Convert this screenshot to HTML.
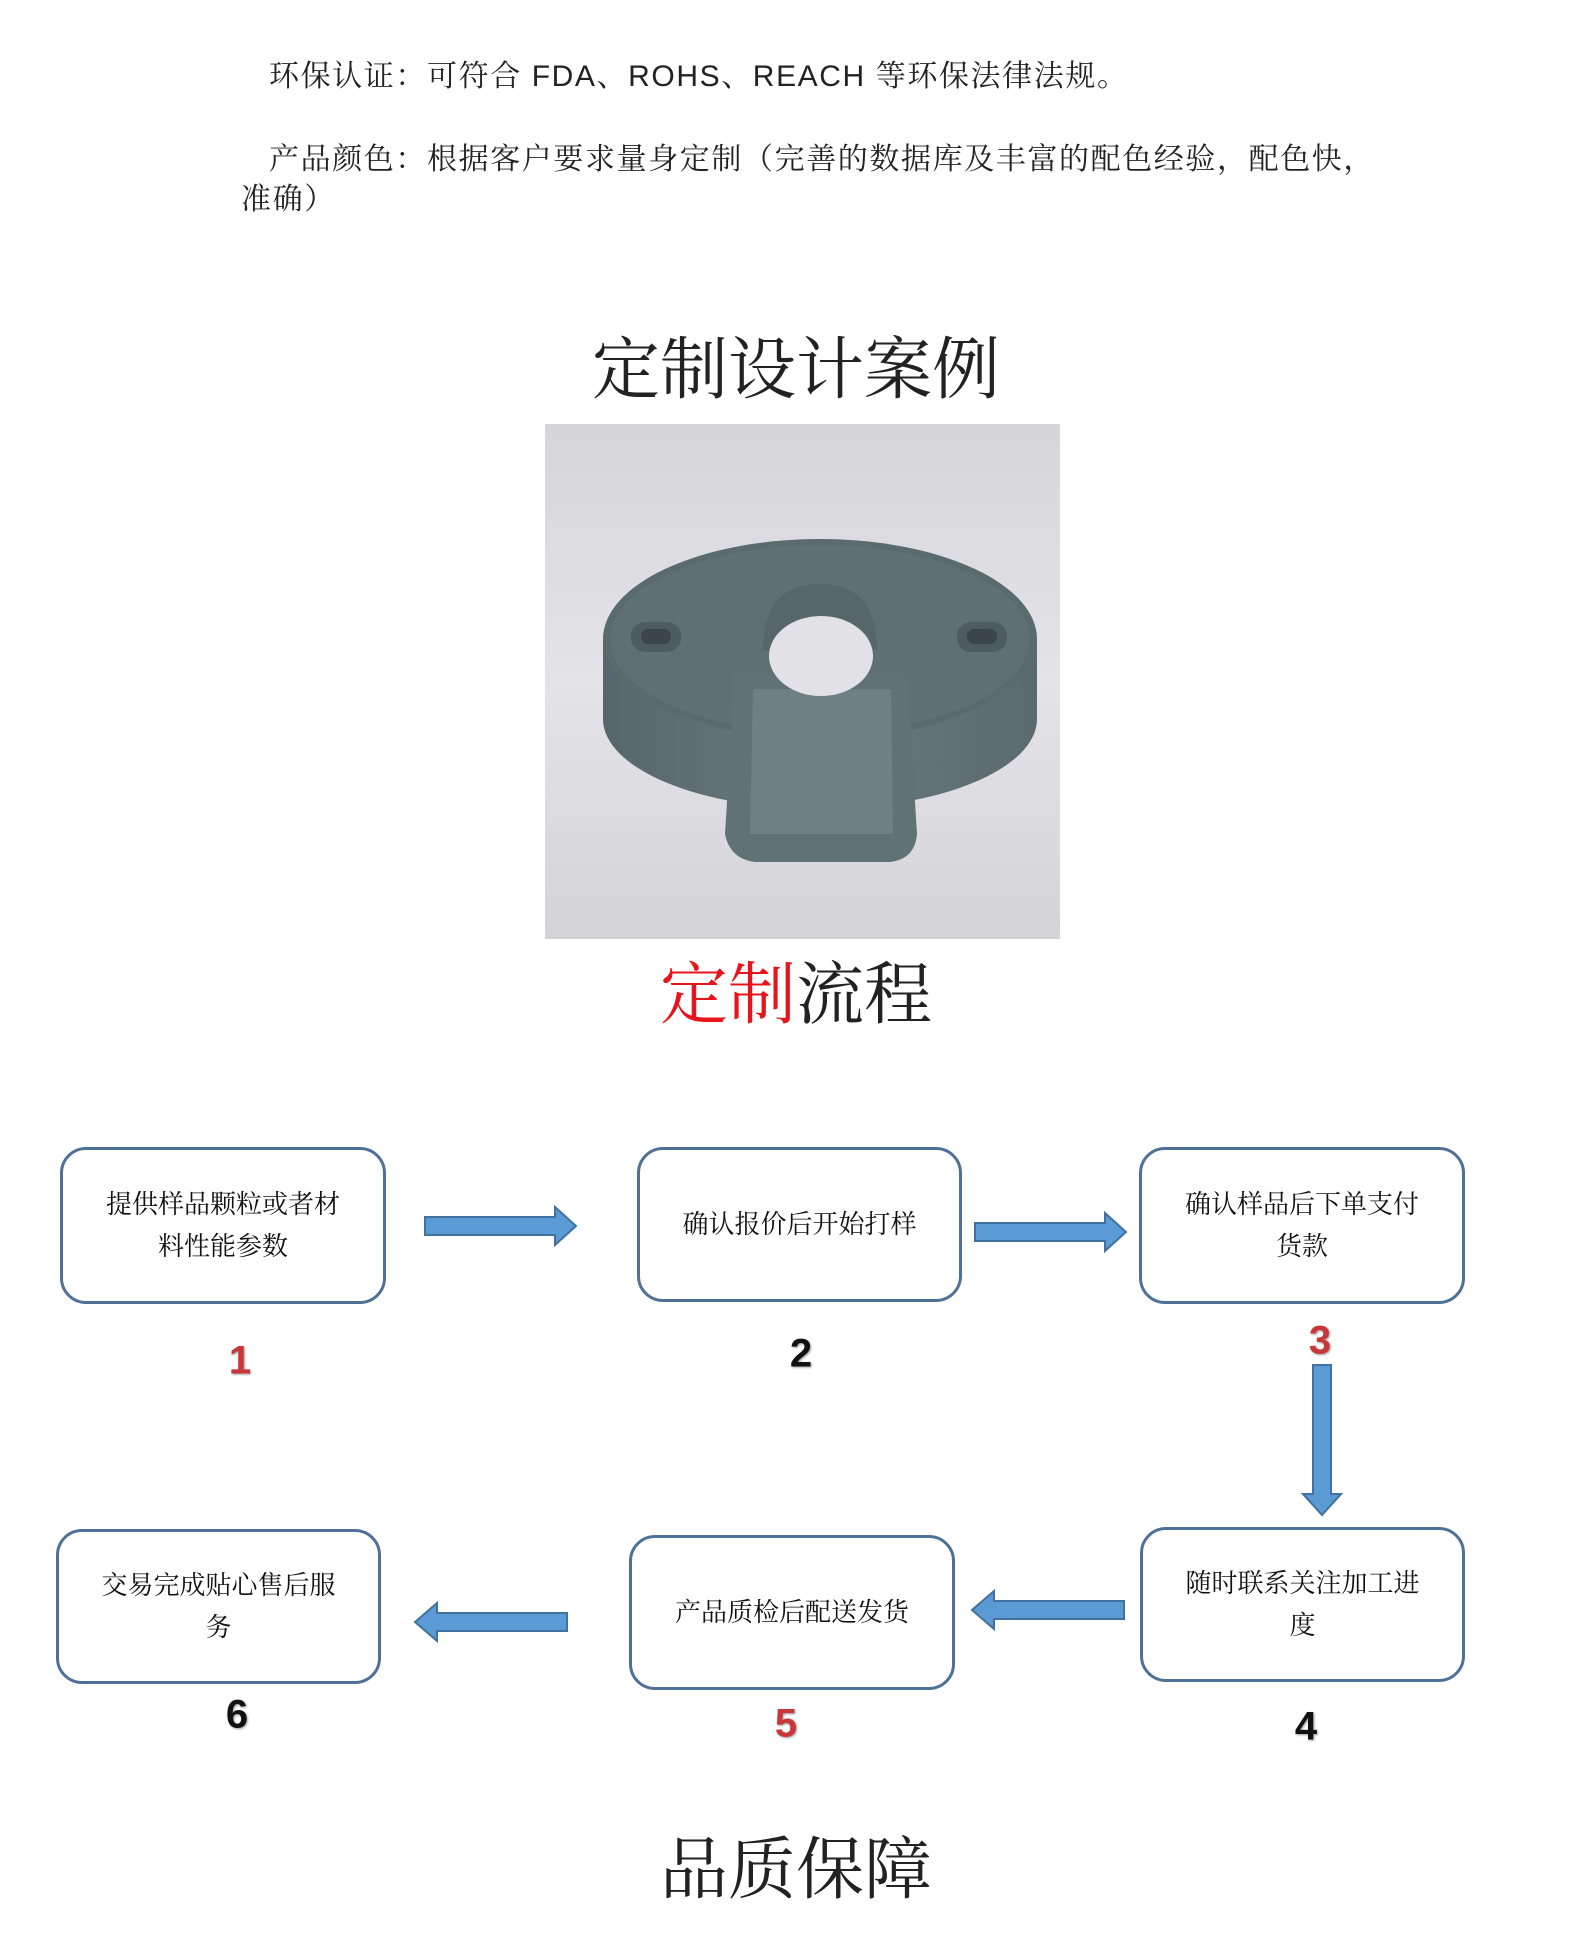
<!DOCTYPE html>
<html><head><meta charset="utf-8"><style>
html,body{margin:0;padding:0;background:#fff}
body{width:1587px;height:1956px;position:relative;overflow:hidden;font-family:"Liberation Serif","Noto Serif CJK SC",serif;color:#111}
.t{position:absolute;white-space:nowrap;line-height:1}
.s{font-family:"Liberation Sans","Noto Serif CJK SC",serif;letter-spacing:1.6px}
.h{font-family:"Liberation Serif","Noto Serif CJK SC",serif;font-size:68px;transform:translate(-50%,-50%)}
.box{position:absolute;border:3px solid #4f7197;border-radius:26px;box-sizing:border-box;display:flex;align-items:center;justify-content:center;text-align:center;font-size:26px;line-height:42px;padding:0 20px;background:#fff;white-space:nowrap}
.n{position:absolute;font-family:"Liberation Sans",sans-serif;font-weight:bold;font-size:40px;transform:translate(-50%,-50%);text-shadow:1px 1px 2px #999}
</style></head><body>
<div class="t s" style="left:269px;top:62px;font-size:30px;color:#222">环保认证：可符合 FDA、ROHS、REACH 等环保法律法规。</div>
<div class="t s" style="left:269px;top:145px;font-size:30px;color:#222">产品颜色：根据客户要求量身定制（完善的数据库及丰富的配色经验，配色快，</div>
<div class="t s" style="left:241px;top:185px;font-size:30px;color:#222">准确）</div>

<div class="t h" style="left:796px;top:370px;color:#222">定制设计案例</div>

<svg style="position:absolute;left:545px;top:424px" width="515" height="515" viewBox="0 0 515 515">
<defs>
<linearGradient id="bg" x1="0" y1="0" x2="0" y2="1"><stop offset="0" stop-color="#d6d6da"/><stop offset="0.5" stop-color="#e4e4e8"/><stop offset="1" stop-color="#d4d4d8"/></linearGradient>
<linearGradient id="side" x1="0" y1="0" x2="1" y2="0"><stop offset="0" stop-color="#56666a"/><stop offset="0.5" stop-color="#6a7a7e"/><stop offset="1" stop-color="#5a6a6e"/></linearGradient>
</defs>
<rect width="515" height="515" fill="url(#bg)"/>
<ellipse cx="275" cy="295" rx="217" ry="90" fill="url(#side)"/>
<rect x="58" y="215" width="434" height="80" fill="url(#side)"/>
<ellipse cx="275" cy="215" rx="217" ry="100" fill="#5a6b6d"/>
<ellipse cx="275" cy="215" rx="210" ry="94" fill="#5f7072"/>
<path d="M190 250 L180 410 Q185 435 210 438 L345 438 Q370 435 372 410 L362 250 Z" fill="#617275"/>
<path d="M208 265 L205 410 L348 410 L346 265 Z" fill="#6e8083"/>
<path d="M218 226 Q218 160 275 160 Q332 160 332 226 Z" fill="#566669"/>
<ellipse cx="276" cy="232" rx="52" ry="40" fill="#e2e2e6"/>
<rect x="86" y="198" width="50" height="30" rx="14" fill="#4d5c5f"/>
<rect x="96" y="205" width="30" height="15" rx="7" fill="#3a4648"/>
<rect x="412" y="198" width="50" height="30" rx="14" fill="#4d5c5f"/>
<rect x="422" y="205" width="30" height="15" rx="7" fill="#3a4648"/>
</svg>

<div class="t h" style="left:796px;top:995px"><span style="color:#e8141c">定制</span><span style="color:#222">流程</span></div>

<div class="box" style="left:60px;top:1147px;width:326px;height:157px">提供样品颗粒或者材<br>料性能参数</div>
<div class="box" style="left:637px;top:1147px;width:325px;height:155px">确认报价后开始打样</div>
<div class="box" style="left:1139px;top:1147px;width:326px;height:157px">确认样品后下单支付<br>货款</div>
<div class="box" style="left:56px;top:1529px;width:325px;height:155px">交易完成贴心售后服<br>务</div>
<div class="box" style="left:629px;top:1535px;width:326px;height:155px">产品质检后配送发货</div>
<div class="box" style="left:1140px;top:1527px;width:325px;height:155px">随时联系关注加工进<br>度</div>

<svg style="position:absolute;left:0;top:0" width="1587" height="1956">
<g fill="#5b9bd5" stroke="#41719c" stroke-width="2">
<polygon points="425,1217 555,1217 555,1207 576,1226 555,1245 555,1235 425,1235"/>
<polygon points="975,1223 1105,1223 1105,1213 1126,1232 1105,1251 1105,1241 975,1241"/>
<polygon points="1313,1365 1331,1365 1331,1494 1341,1494 1322,1515 1303,1494 1313,1494"/>
<polygon points="567,1613 437,1613 437,1603 415,1622 437,1641 437,1631 567,1631"/>
<polygon points="1124,1601 994,1601 994,1591 972,1610 994,1629 994,1619 1124,1619"/>
</g>
</svg>

<div class="n" style="left:240px;top:1361px;color:#c8373a">1</div>
<div class="n" style="left:801px;top:1354px">2</div>
<div class="n" style="left:1320px;top:1341px;color:#c8373a">3</div>
<div class="n" style="left:1306px;top:1727px">4</div>
<div class="n" style="left:786px;top:1724px;color:#c8373a">5</div>
<div class="n" style="left:237px;top:1715px">6</div>

<div class="t h" style="left:796px;top:1870px;color:#222">品质保障</div>
</body></html>
